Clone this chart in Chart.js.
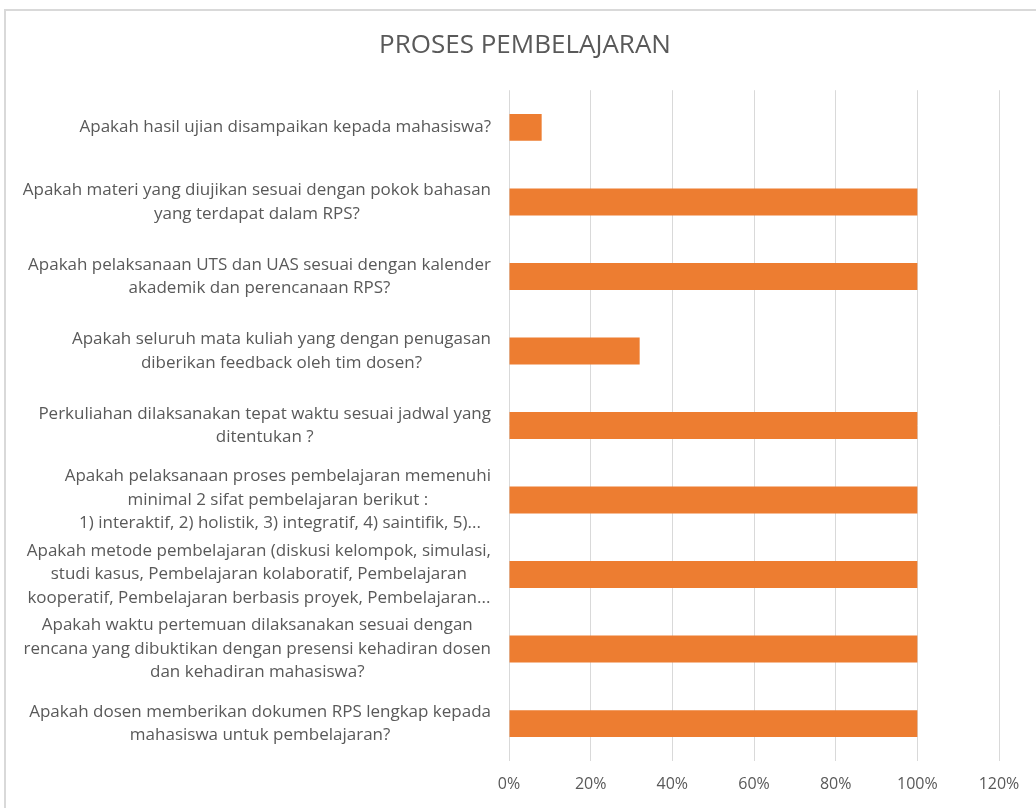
<!DOCTYPE html>
<html>
<head>
<meta charset="utf-8">
<script src="https://cdn.jsdelivr.net/npm/chart.js@4/dist/chart.umd.min.js"></script>
<style>
  html, body { margin: 0; padding: 0; background: #fff; overflow: hidden; }
  #frame { position: absolute; left: 4px; top: 9px; width: 1040px; height: 820px; border: 2px solid #d9d9d9; box-sizing: border-box; }
  #chart { position: absolute; left: 0; top: 0; }
</style>
</head>
<body>
<div id="frame"></div>
<canvas id="chart" width="1036" height="808"></canvas>
<script>
// pertanyaan (kategori), satu entri per baris label
const categories = [
  ['Apakah hasil ujian disampaikan kepada mahasiswa?'],
  ['Apakah materi yang diujikan sesuai dengan pokok bahasan', 'yang terdapat dalam RPS?'],
  ['Apakah pelaksanaan UTS dan UAS sesuai dengan kalender', 'akademik dan perencanaan RPS?'],
  ['Apakah seluruh mata kuliah yang dengan penugasan', 'diberikan feedback oleh tim dosen?'],
  ['Perkuliahan dilaksanakan tepat waktu sesuai jadwal yang', 'ditentukan ?'],
  ['Apakah pelaksanaan proses pembelajaran memenuhi', 'minimal 2 sifat pembelajaran berikut :', ' 1) interaktif, 2) holistik, 3) integratif, 4) saintifik, 5)...'],
  ['Apakah metode pembelajaran (diskusi kelompok, simulasi,', 'studi kasus, Pembelajaran kolaboratif, Pembelajaran', 'kooperatif, Pembelajaran berbasis proyek, Pembelajaran...'],
  ['Apakah waktu pertemuan dilaksanakan sesuai dengan', 'rencana yang dibuktikan dengan presensi kehadiran dosen', 'dan kehadiran mahasiswa?'],
  ['Apakah dosen memberikan dokumen RPS lengkap kepada', 'mahasiswa untuk pembelajaran?'],
];
const values = [8, 100, 100, 32, 100, 100, 100, 100, 100];   // persen
const xTicks = [0, 20, 40, 60, 80, 100, 120];

const TEXT = '#595959';
const FONT = '"Open Sans", "Liberation Sans", sans-serif';

// label kategori ala Excel: blok rata kanan, tiap baris di-tengah
const labelPlugin = {
  id: 'excelLabels',
  afterDraw(chart) {
    const ctx = chart.ctx, y = chart.scales.y;
    const right = 491, lh = 23.5;
    ctx.save();
    ctx.font = '17px ' + FONT;
    ctx.fillStyle = TEXT;
    ctx.textAlign = 'center';
    ctx.textBaseline = 'middle';
    categories.forEach((lines, i) => {
      const w = Math.max(...lines.map(l => ctx.measureText(l).width));
      const cx = right - w / 2;
      const cy = y.getPixelForValue(i);
      lines.forEach((l, k) => ctx.fillText(l, cx, cy + (k - (lines.length - 1) / 2) * lh));
    });
    ctx.restore();
  }
};

new Chart(document.getElementById('chart'), {
  type: 'bar',
  data: {
    labels: categories.map(c => c.join(' ')),
    datasets: [{ data: values, backgroundColor: '#ED7D31', barPercentage: 0.36, categoryPercentage: 1 }],
  },
  options: {
    indexAxis: 'y', responsive: false, animation: false,
    layout: { padding: { left: 51, right: 37, top: 0, bottom: 0 } },
    plugins: {
      legend: { display: false }, tooltip: { enabled: false },
      title: { display: true, text: 'PROSES PEMBELAJARAN', color: TEXT, font: { family: FONT, size: 26, weight: 'normal' }, padding: { top: 30, bottom: 29 } },
    },
    scales: {
      x: {
        min: 0, max: 120,
        afterBuildTicks: s => { s.ticks = xTicks.map(v => ({ value: v })); },
        ticks: { color: TEXT, font: { family: FONT, size: 16 }, padding: 14, callback: v => v + '%' },
        grid: { color: '#d9d9d9', drawTicks: false },
        border: { display: false },
      },
      y: {
        ticks: { display: false },
        grid: { display: false },
        border: { display: false },
        afterFit: s => { s.width = 458; },
      },
    },
  },
  plugins: [labelPlugin],
});
</script>
</body>
</html>
